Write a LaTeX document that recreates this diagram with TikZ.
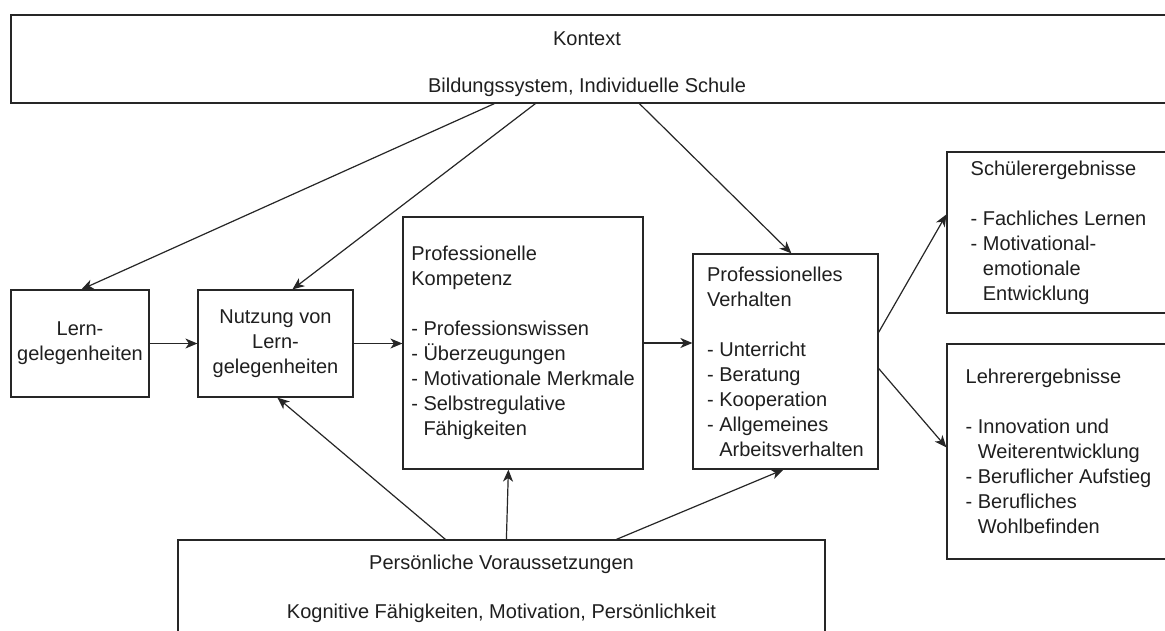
\documentclass[tikz,border=0pt]{standalone}
\usepackage{fontspec}
\setmainfont{Liberation Sans}
\usetikzlibrary{arrows.meta}
\begin{document}
\begin{tikzpicture}[x=1pt,y=-1pt,
  every node/.style={font=\fontsize{20}{25}\selectfont, text=black!88},
  box/.style={draw=black!85, line width=1.2pt, inner sep=0pt},
  lbl/.style={inner sep=0pt},
  arr/.style={draw=black!85, line width=1.2pt, -{Stealth[length=12pt,width=10pt,inset=3.5pt]}}]
\clip (0,0) rectangle (1165,630);
\fill[white] (0,0) rectangle (1165,630);
% boxes
\node[box, minimum width=1157pt, minimum height=88pt] (ctx) at (589.5,59) {};
\node[lbl, align=center] (ctxt) at (587,64) {Kontext\\[22pt]Bildungssystem, Individuelle Schule};
\node[box, minimum width=138pt, minimum height=107pt, align=center] (lern) at (80,343.5) {Lern-\\gelegenheiten};
\node[box, minimum width=155pt, minimum height=107pt, align=center] (nutz) at (275.5,343.5) {Nutzung von\\Lern-\\gelegenheiten};
\node[box, minimum width=240pt, minimum height=252pt, align=left] (komp) at (523,343) {Professionelle\\Kompetenz\\[25pt]- Professionswissen\\- Überzeugungen\\- Motivationale Merkmale\\- Selbstregulative\\\hphantom{- }Fähigkeiten};
\node[box, minimum width=185pt, minimum height=215pt, align=left] (verh) at (785.5,361.5) {Professionelles\\Verhalten\\[25pt]- Unterricht\\- Beratung\\- Kooperation\\- Allgemeines\\\hphantom{- }Arbeitsverhalten};
\node[box, minimum width=223pt, minimum height=161pt, align=left] (schu) at (1058.5,232.5) {Schülerergebnisse\\[25pt]- Fachliches Lernen\\- Motivational-\\\hphantom{- }emotionale\\\hphantom{- }Entwicklung};
\node[box, minimum width=223pt, minimum height=215pt, align=left] (lehr) at (1058.5,451.5) {Lehrerergebnisse\\[25pt]- Innovation und\\\hphantom{- }Weiterentwicklung\\- Beruflicher Aufstieg\\- Berufliches\\\hphantom{- }Wohlbefinden};
\node[box, minimum width=647pt, minimum height=120pt] (pers) at (501.5,600) {};
\node[lbl, align=center] (perst) at (501.5,589) {Persönliche Voraussetzungen\\[24pt]Kognitive Fähigkeiten, Motivation, Persönlichkeit};
% connectors
\draw[arr] ([xshift=484pt]ctx.south west) -- ([xshift=71pt]lern.north west);
\draw[arr] ([xshift=525pt]ctx.south west) -- ([xshift=95pt]nutz.north west);
\draw[arr] ([xshift=629pt]ctx.south west) -- ([xshift=99pt]verh.north west);
\draw[arr] (lern.east) -- (nutz.west);
\draw[arr] (nutz.east) -- (komp.west |- nutz.east);
\draw[arr] (komp.east) -- (verh.west |- komp.east);
\draw[arr] ([yshift=-79pt]verh.north east) -- ([yshift=-63pt]schu.north west);
\draw[arr] ([yshift=-115pt]verh.north east) -- ([yshift=-104pt]lehr.north west);
\draw[arr] ([xshift=268pt]pers.north west) -- ([xshift=80pt]nutz.south west);
\draw[arr] ([xshift=329pt]pers.north west) -- ([xshift=106pt]komp.south west);
\draw[arr] ([xshift=439pt]pers.north west) -- ([xshift=91pt]verh.south west);
\end{tikzpicture}
\end{document}
